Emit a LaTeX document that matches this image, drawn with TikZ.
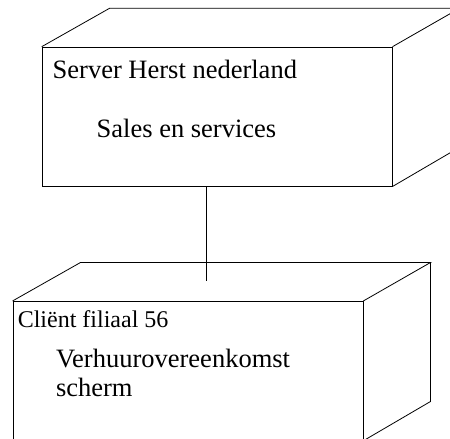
\documentclass[tikz,border=0pt]{standalone}
\usepackage{fontspec}
\setmainfont{Liberation Serif}
\begin{document}
\begin{tikzpicture}[x=1pt,y=1pt,
  deploy/.style={draw, rectangle, line width=0.8pt, minimum width=350pt,
    minimum height=139pt, inner sep=0pt, anchor=north west},
  edge3d/.style={line width=0.8pt, line join=miter},
  link/.style={line width=0.8pt},
  lbl/.style={inner sep=0pt, anchor=base west, font=\fontsize{26.5}{29.4}\selectfont},
  lblsmall/.style={inner sep=0pt, anchor=base west, font=\fontsize{24}{28}\selectfont}]
\useasboundingbox (0,0) rectangle (450,439);
\clip (0,0) rectangle (450,439);

% front faces of the two deployment nodes
\node[deploy] (server) at (41.7,392.3) {};
\node[deploy] (client) at (12.5,138) {};

% top and side faces giving the boxes depth
\foreach \n in {server,client} {
  \draw[edge3d] (\n.north west) -- ++(68,38.5) -- ++(350,0) coordinate (\n-back)
    -- (\n.north east);
  \draw[edge3d] (\n-back) -- ++(0,-139) -- (\n.south east);
}

% communication link between server and client
\coordinate (tap) at (206,158);
\draw[link] (server.south -| tap) -- (tap);

% labels
\node[lbl] (serverName) at (52.5,360) {Server Herst nederland};
\node[lbl] (serverComp) at (96.5,301.3) {Sales en services};
\node[lblsmall] (clientName) at (17.6,111.3) {Cliënt filiaal 56};
\node[lbl] (clientComp) at (55.8,71.7) {Verhuurovereenkomst};
\node[lbl] (clientCompB) at ([yshift=-29.4pt]clientComp.base west) {scherm};
\end{tikzpicture}
\end{document}
